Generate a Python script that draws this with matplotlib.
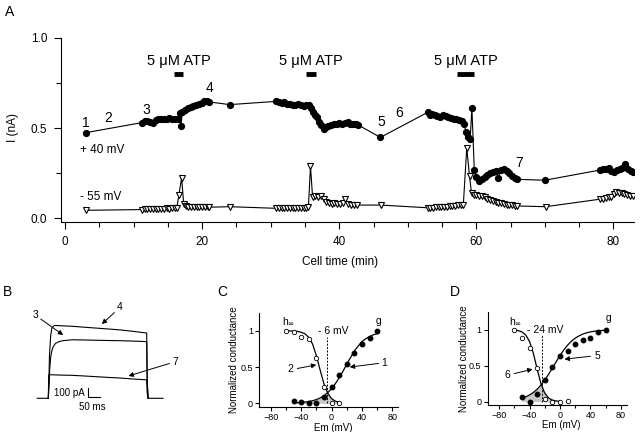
# Four-panel recording figure: A time course, B current traces, C/D activation vs inactivation
import matplotlib.pyplot as plt
import numpy as np

plt.rcParams['font.family'] = ['Liberation Sans', 'DejaVu Sans']
plt.rcParams['axes.linewidth'] = 0.8

# ---- panel A data: current at +40 mV (filled circles) ----
t_pos = [3.0,
         11.2, 11.6, 12.0, 12.4, 12.8, 13.2, 13.6, 14.0, 14.4, 14.8, 15.2, 15.6, 16.0, 16.4,
         16.7, 16.9, 17.1, 17.5, 17.9, 18.3, 18.7, 19.1, 19.5, 19.9, 20.3, 20.7, 21.0,
         24.0,
         30.8, 31.2, 31.6, 32.0, 32.4, 32.8, 33.2, 33.6, 34.0, 34.4, 34.8, 35.2, 35.6,
         35.9, 36.2, 36.5, 36.8, 37.1, 37.4, 37.7, 38.0, 38.4, 38.8, 39.2, 39.6, 40.0,
         40.4, 40.8, 41.2, 41.6, 42.0, 42.4, 42.7,
         46.0,
         52.9, 53.2, 53.5, 53.9, 54.3, 54.7, 55.1, 55.5, 55.9, 56.3, 56.7, 57.1, 57.5,
         57.9, 58.2, 58.5, 58.8, 59.1, 59.35, 59.7, 60.0, 60.4, 60.8, 61.2, 61.6, 62.0,
         62.4, 62.8, 63.2, 63.6, 64.0, 64.4, 64.8, 65.2, 65.6, 66.0,
         70.0,
         78.1, 78.5, 78.9, 79.3, 79.7, 80.1, 80.5, 80.9, 81.3, 81.7, 82.1, 82.5, 82.9]
i_pos = [0.474,
         0.530, 0.537, 0.540, 0.535, 0.528, 0.545, 0.548, 0.550, 0.548, 0.552, 0.555, 0.550, 0.548, 0.550,
         0.585, 0.513, 0.590, 0.600, 0.610, 0.615, 0.620, 0.628, 0.632, 0.640, 0.650, 0.652, 0.645,
         0.630,
         0.648, 0.645, 0.640, 0.642, 0.635, 0.632, 0.630, 0.628, 0.632, 0.628, 0.625, 0.630, 0.628,
         0.610, 0.590, 0.575, 0.560, 0.535, 0.515, 0.495, 0.505, 0.512, 0.518, 0.522, 0.525, 0.528,
         0.525, 0.530, 0.532, 0.525, 0.520, 0.522, 0.518,
         0.448,
         0.587, 0.575, 0.580, 0.570, 0.565, 0.560, 0.570, 0.565, 0.560, 0.555, 0.550, 0.548, 0.545,
         0.540, 0.520, 0.480, 0.450, 0.440, 0.610, 0.265, 0.230, 0.205, 0.215, 0.230, 0.240, 0.248,
         0.255, 0.262, 0.225, 0.265, 0.272, 0.262, 0.250, 0.235, 0.225, 0.215,
         0.210,
         0.267, 0.270, 0.272, 0.280, 0.262, 0.255, 0.265, 0.270, 0.280, 0.300, 0.275, 0.262, 0.258]

# ---- panel A data: current at -55 mV (open triangles) ----
t_neg = [3.0,
         11.2, 11.6, 12.0, 12.4, 12.8, 13.2, 13.6, 14.0, 14.4, 14.8, 15.2, 15.6, 16.0, 16.3,
         16.6, 17.0, 17.3, 17.6, 18.0, 18.4, 18.8, 19.2, 19.6, 20.0, 20.4, 20.8, 21.0,
         24.0,
         30.8, 31.2, 31.6, 32.0, 32.4, 32.8, 33.2, 33.6, 34.0, 34.4, 34.8, 35.2, 35.5,
         35.8, 36.1, 36.5, 36.9, 37.3, 37.7, 38.1, 38.5, 38.9, 39.3, 39.7, 40.1, 40.5,
         40.9, 41.3, 41.7, 42.1, 42.6,
         46.1,
         52.9, 53.3, 53.7, 54.1, 54.5, 54.9, 55.3, 55.7, 56.1, 56.5, 56.9, 57.3, 57.7, 58.1,
         58.6, 59.0, 59.3, 59.6, 60.0, 60.4, 60.8, 61.2, 61.6, 62.0, 62.4, 62.8, 63.2,
         63.6, 64.0, 64.4, 64.8, 65.2, 65.6, 66.0,
         70.1,
         78.1, 78.5, 78.9, 79.3, 79.7, 80.1, 80.4, 80.8, 81.2, 81.6, 82.0, 82.4, 82.8]
i_neg = [0.043,
         0.047, 0.048, 0.050, 0.049, 0.050, 0.052, 0.051, 0.050, 0.052, 0.053, 0.052, 0.054, 0.055, 0.056,
         0.128, 0.224, 0.078, 0.065, 0.062, 0.060, 0.062, 0.061, 0.060, 0.062, 0.061, 0.060, 0.060,
         0.063,
         0.054, 0.055, 0.056, 0.055, 0.057, 0.056, 0.055, 0.057, 0.056, 0.058, 0.057, 0.058, 0.060,
         0.289, 0.118, 0.120, 0.118, 0.120, 0.105, 0.090, 0.085, 0.080, 0.085, 0.080, 0.078, 0.082,
         0.104, 0.078, 0.072, 0.075, 0.072,
         0.072,
         0.057, 0.058, 0.058, 0.060, 0.060, 0.062, 0.063, 0.064, 0.066, 0.067, 0.068, 0.070, 0.072, 0.075,
         0.390, 0.233, 0.137, 0.128, 0.127, 0.125, 0.120, 0.115, 0.108, 0.100, 0.095, 0.090, 0.085,
         0.082, 0.078, 0.075, 0.072, 0.070, 0.068, 0.067,
         0.063,
         0.105, 0.108, 0.112, 0.115, 0.118, 0.135, 0.143, 0.140, 0.138, 0.135, 0.128, 0.122, 0.125]

# ATP application bars (start, end) in min
atp_bars = [(15.9, 17.2), (35.2, 36.6), (57.2, 59.6)]
# numbered time points: label, time, y position of label
point_labels = [('1', 3.0, 0.53), ('2', 6.3, 0.555), ('3', 11.9, 0.60), ('4', 21.1, 0.72),
                ('5', 46.2, 0.535), ('6', 48.7, 0.585), ('7', 66.2, 0.305)]

# ---- panel B: current traces (ms, pA) ----
tr4_t = [-46, 0, 2, 5, 10, 15, 25, 60, 100, 150, 200, 250, 300, 350, 410, 412, 416, 478]
tr4_i = [0, 0, 150, 480, 700, 780, 810, 805, 800, 790, 780, 770, 760, 745, 725, 200, 0, 0]
tr3_t = [0, 3, 6, 10, 15, 20, 30, 45, 60, 100, 150, 200, 250, 300, 350, 410, 412, 416]
tr3_i = [0, 150, 330, 460, 530, 570, 610, 630, 640, 650, 648, 645, 642, 640, 636, 630, 180, 0]
tr7_t = [0, 2, 10, 50, 100, 150, 200, 250, 300, 350, 410, 412, 416]
tr7_i = [0, 260, 262, 258, 255, 248, 240, 232, 225, 215, 205, 60, 0]

# ---- panel C: conductance vs voltage ----
c_h_v = [-60, -50, -40, -30, -20, -10, 0, 10]
c_h = [1.0, 0.98, 0.91, 0.89, 0.63, 0.23, 0.01, 0.01]
c_g_v = [-50, -40, -30, -20, -10, 0, 10, 20, 30, 40, 50, 60]
c_g = [0.03, 0.014, 0.0, 0.01, 0.08, 0.23, 0.39, 0.54, 0.70, 0.82, 0.90, 1.0]
c_hfit_v = [-60, -55, -50, -45, -40, -35, -30, -25, -20, -15, -10, -5, 0, 5, 10]
c_hfit = [0.999, 0.998, 0.997, 0.992, 0.98, 0.96, 0.91, 0.82, 0.66, 0.46, 0.27, 0.14, 0.065, 0.03, 0.013]
c_gfit_v = [-50, -45, -40, -35, -30, -25, -20, -15, -10, -5, 0, 5, 10, 15, 20, 25, 30, 35, 40, 45, 50, 55, 60]
c_gfit = [0.005, 0.008, 0.011, 0.017, 0.024, 0.035, 0.051, 0.073, 0.104, 0.146, 0.20, 0.27, 0.35,
          0.44, 0.54, 0.63, 0.72, 0.79, 0.85, 0.89, 0.92, 0.945, 0.96]

# ---- panel D ----
d_h_v = [-60, -50, -40, -30, -20, -10, 0, 10]
d_h = [1.0, 0.88, 0.74, 0.47, 0.04, 0.0, 0.0, 0.01]
d_g_v = [-50, -40, -30, -20, -10, 0, 10, 20, 30, 40, 50, 60]
d_g = [0.06, 0.0, 0.10, 0.30, 0.48, 0.63, 0.71, 0.80, 0.85, 0.88, 0.97, 1.0]
d_hfit_v = [-60, -55, -50, -45, -40, -35, -30, -25, -20, -15, -10, -5, 0]
d_hfit = [0.995, 0.987, 0.969, 0.927, 0.837, 0.674, 0.455, 0.251, 0.119, 0.052, 0.022, 0.009, 0.004]
d_gfit_v = [-50, -45, -40, -35, -30, -25, -20, -15, -10, -5, 0, 5, 10, 15, 20, 25, 30, 35, 40, 45, 50, 55, 60]
d_gfit = [0.047, 0.066, 0.092, 0.127, 0.172, 0.229, 0.298, 0.378, 0.464, 0.553, 0.639, 0.717, 0.784,
          0.838, 0.881, 0.913, 0.938, 0.956, 0.969, 0.978, 0.984, 0.989, 0.992]

W, H = 640.0, 432.0


def box(l, t, r, b):
    # pixel box -> figure fraction rect
    return [l / W, 1 - b / H, (r - l) / W, (b - t) / H]


fig = plt.figure(figsize=(6.4, 4.32), dpi=100)

# ================= A =================
axA = fig.add_axes(box(61, 38, 634, 222))
axA.plot(t_pos, i_pos, '-o', color='k', lw=0.8, ms=4.2, mfc='k', mec='k')
axA.plot(t_neg, i_neg, '-v', color='k', lw=0.8, ms=3.8, mfc='white', mec='k', mew=0.8)
for s, e in atp_bars:
    axA.plot([s, e], [0.80, 0.80], color='k', lw=3.5, solid_capstyle='butt')
    axA.text((s + e) / 2, 0.87, '5 \u03bcM ATP', ha='center', va='center', fontsize=10.5)
for lab, tx, ty in point_labels:
    axA.text(tx, ty, lab, ha='center', va='center', fontsize=10)
axA.text(2.2, 0.38, '+ 40 mV', ha='left', va='center', fontsize=8.5)
axA.text(2.2, 0.118, '- 55 mV', ha='left', va='center', fontsize=8.5)
axA.set_xlim(-0.6, 83)
axA.set_ylim(-0.022, 1.0)
axA.set_xticks([0, 20, 40, 60, 80])
axA.set_xticks(np.arange(5, 85, 5), minor=True)
axA.set_yticks([0.0, 0.5, 1.0])
axA.set_yticklabels(['0.0', '0.5', '1.0'])
axA.set_yticks([0.25, 0.75], minor=True)
for sp in ['top', 'right']:
    axA.spines[sp].set_visible(False)
axA.tick_params(which='major', direction='out', length=5, width=0.8, labelsize=8.5, pad=5)
axA.tick_params(which='minor', direction='out', length=3.5, width=0.8)
fig.text(13 / W, 1 - 128 / H, 'I (nA)', rotation=90, ha='center', va='center', fontsize=8.5)
fig.text(340 / W, 1 - 262 / H, 'Cell time (min)', ha='center', va='center', fontsize=8.5)

# ================= B =================
axB = fig.add_axes(box(33.9, 308.3, 168.3, 416.3))
axB.set_xlim(-60, 500)
axB.set_ylim(-200, 1000)
axB.axis('off')
for tt, ii in [(tr4_t, tr4_i), (tr3_t, tr3_i), (tr7_t, tr7_i)]:
    axB.plot(tt, ii, color='k', lw=0.8)
axB.plot([167, 167, 217], [114, 14, 14], color='k', lw=0.8)
axB.text(153, 59, '100 pA', ha='right', va='center', fontsize=7)
axB.text(182, -95, '50 ms', ha='center', va='center', fontsize=7)
arr = dict(arrowstyle='-|>', color='k', lw=0.7, mutation_scale=7, shrinkA=0, shrinkB=0)
axB.annotate('3', xy=(62, 703), xytext=(-55, 925), ha='center', va='center', fontsize=7.5,
             arrowprops=arr, annotation_clip=False)
axB.annotate('4', xy=(223, 825), xytext=(299, 1010), ha='center', va='center', fontsize=7.5,
             arrowprops=arr, annotation_clip=False)
axB.annotate('7', xy=(334, 248), xytext=(528, 406), ha='center', va='center', fontsize=7.5,
             arrowprops=arr, annotation_clip=False)


# ================= C & D =================
def iv_panel(ax, hv, h, gv, g, hfv, hf, gfv, gf, vcross, vlabel, lab_h, lab_g, ann_h, ann_g,
             ylab_x, xlab_y):
    # shaded overlap under both fits on the shared voltage grid
    hd = dict(zip(hfv, hf))
    gd = dict(zip(gfv, gf))
    sv = [v for v in gfv if v in hd]
    ax.fill_between(sv, 0, np.minimum([hd[v] for v in sv], [gd[v] for v in sv]),
                    color='#c8c8c8', lw=0)
    ax.plot(hfv, hf, color='k', lw=0.9)
    ax.plot(gfv, gf, color='k', lw=0.9)
    ax.plot(hv, h, 'o', ms=3.2, mfc='white', mec='k', mew=0.6)
    ax.plot(gv, g, 'o', ms=3.2, mfc='k', mec='k')
    ax.plot([vcross, vcross], [0, 0.92], color='k', lw=0.7, ls=(0, (2, 1.5)))
    ax.text(vlabel[0], vlabel[1], vlabel[2], ha='center', va='center', fontsize=7.5)
    ax.text(lab_h[0], lab_h[1], r'h$_{\infty}$', ha='center', va='center', fontsize=7.5)
    ax.text(lab_g[0], lab_g[1], 'g', ha='center', va='center', fontsize=7.5)
    a = dict(arrowstyle='-|>', color='k', lw=0.7, mutation_scale=7, shrinkA=0, shrinkB=0)
    for lab, tip, tail, txt in (ann_h, ann_g):
        ax.annotate('', xy=tip, xytext=tail, arrowprops=a)
        ax.text(txt[0], txt[1], lab, ha='center', va='center', fontsize=7.5)
    ax.set_xlim(-95, 88)
    ax.set_ylim(-0.047, 1.25)
    ax.set_xticks([-80, -40, 0, 40, 80])
    ax.set_xticks([-60, -20, 20, 60], minor=True)
    ax.set_yticks([0, 0.5, 1])
    ax.set_yticklabels(['0', '0.5', '1'])
    for sp in ['top', 'right']:
        ax.spines[sp].set_visible(False)
    ax.tick_params(which='major', direction='out', length=3, width=0.8, labelsize=6.5, pad=1.5)
    ax.tick_params(which='minor', direction='out', length=2, width=0.8)
    ax.text(0.53, xlab_y, 'Em (mV)', transform=ax.transAxes, ha='center', va='center', fontsize=7)
    ax.text(ylab_x, 0.5, 'Normalized conductance', transform=ax.transAxes, rotation=90,
            ha='center', va='center', fontsize=7)


axC = fig.add_axes(box(259.3, 312.7, 398.4, 406.7))
iv_panel(axC, c_h_v, c_h, c_g_v, c_g, c_hfit_v, c_hfit, c_gfit_v, c_gfit,
         -6, (2, 1.0, '- 6 mV'), (-56, 1.13), (61.5, 1.14),
         ('2', (-20, 0.53), (-45, 0.48), (-54, 0.47)),
         ('1', (24, 0.50), (62, 0.55), (69, 0.55)),
         -0.18, -0.225)

axD = fig.add_axes(box(487.7, 311.7, 626.8, 405.0))
iv_panel(axD, d_h_v, d_h, d_g_v, d_g, d_hfit_v, d_hfit, d_gfit_v, d_gfit,
         -24, (-20, 1.0, '- 24 mV'), (-58, 1.12), (64, 1.16),
         ('6', (-36, 0.45), (-60, 0.39), (-69, 0.37)),
         ('5', (6, 0.59), (40, 0.63), (49, 0.64)),
         -0.17, -0.215)

for lab, x, y in [('A', 10, 12), ('B', 8, 292), ('C', 222, 292), ('D', 455, 292)]:
    fig.text(x / W, 1 - y / H, lab, ha='center', va='center', fontsize=10)

fig.savefig('out.png', dpi=100)
